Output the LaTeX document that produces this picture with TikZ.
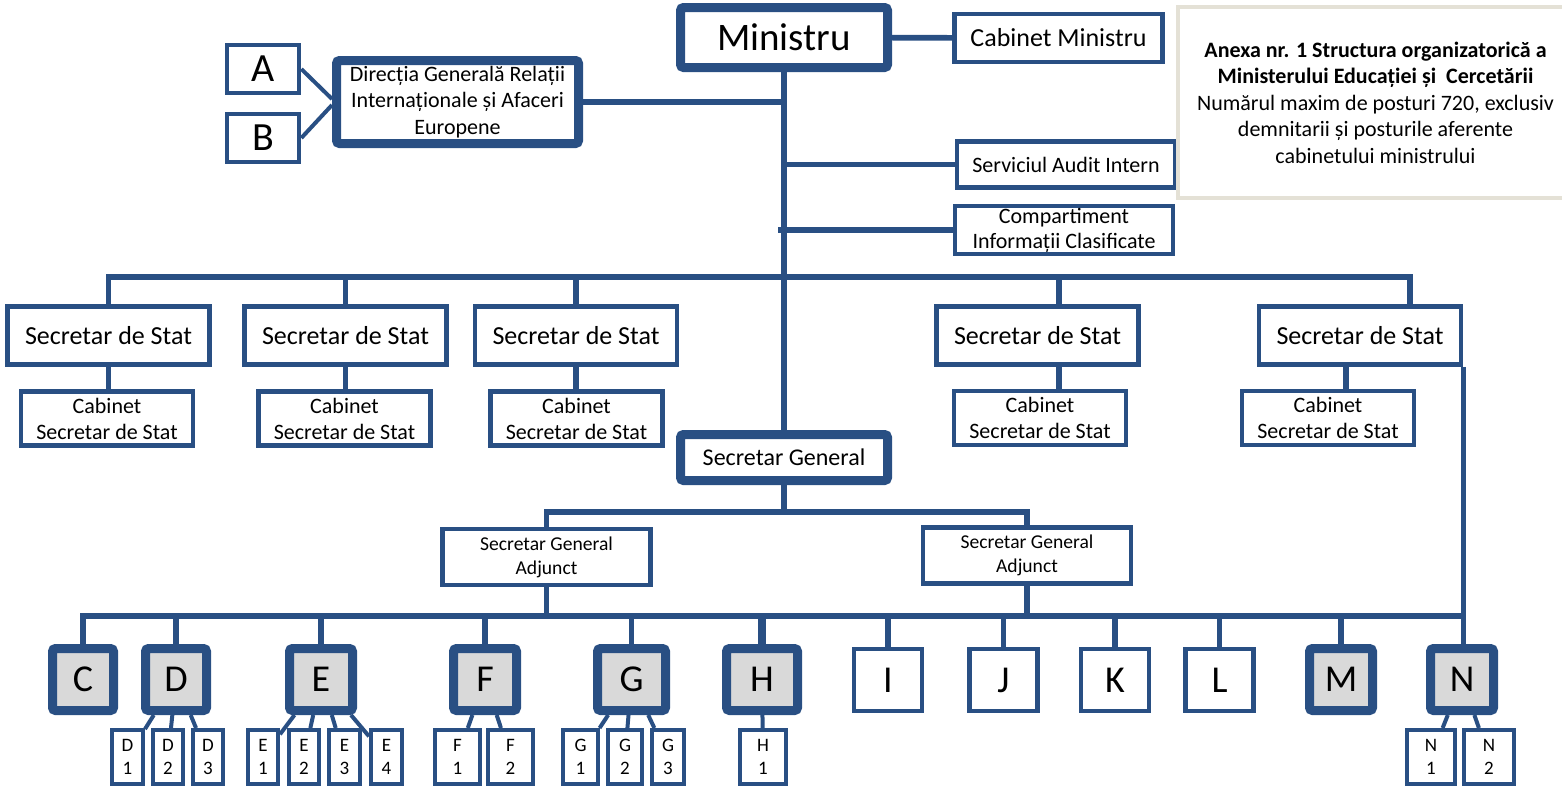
\documentclass[tikz,border=0pt]{standalone}
\usepackage{fontspec}
\setmainfont{Carlito}
\usepackage{tikz}
\usetikzlibrary{positioning}
\usetikzlibrary{calc}
\definecolor{orgblue}{RGB}{41,79,131}
\definecolor{boxgray}{RGB}{217,217,217}
\definecolor{notegray}{RGB}{228,225,214}
\tikzstyle{unit}=[draw=orgblue,line width=2.3pt,fill=white,align=center,inner sep=0pt]
\tikzstyle{bigunit}=[unit,line width=4.5pt,rounded corners=1.5pt]
\tikzstyle{letter}=[bigunit,fill=boxgray,minimum height=31pt,font=\fontsize{19}{19}\selectfont]
\tikzstyle{openletter}=[unit,minimum width=34pt,minimum height=31pt,font=\fontsize{19}{19}\selectfont]
\tikzstyle{subunit}=[unit,line width=2pt,minimum height=27pt,font=\fontsize{9.5}{11.5}\selectfont]
\tikzstyle{stat}=[unit,minimum width=101pt,minimum height=29pt,font=\fontsize{13}{15}\selectfont]
\tikzstyle{cabinet}=[unit,minimum width=86pt,minimum height=27pt,font=\fontsize{11}{13}\selectfont]
\tikzstyle{adjunct}=[unit,minimum width=104pt,minimum height=28pt,font=\fontsize{9.8}{12}\selectfont]
\tikzstyle{note}=[draw=notegray,line width=2pt,fill=white,align=center,font=\fontsize{11}{13.25}\selectfont]
\tikzstyle{link}=[draw=orgblue,line width=2.8pt]
\tikzstyle{sublink}=[draw=orgblue,line width=2pt]

\begin{document}
\begin{tikzpicture}[x=0.5pt,y=-0.5pt]
    \useasboundingbox (0,0) rectangle (1562,793);

    \node[bigunit,minimum width=103.5pt,minimum height=30pt,font=\fontsize{19.5}{19.5}\selectfont] (Min) at (784,37.5) {Ministru};
    \node[unit,minimum width=104pt,minimum height=24pt,font=\fontsize{13}{15}\selectfont] (CabMin) at (1058.5,38) {Cabinet Ministru};
    \node[bigunit,minimum width=121pt,minimum height=41.5pt,font=\fontsize{11}{13.3}\selectfont] (DGRI) at (457.5,102) {Direcția Generală Relații\\Internaționale și Afaceri\\Europene};
    \foreach \pos/\name in {{(263,69)/A}, {(263,138)/B}}
        \node[unit,minimum width=36pt,minimum height=24pt,font=\fontsize{20}{20}\selectfont] (\name) at \pos {\name};
    \node[unit,minimum width=109pt,minimum height=23pt,font=\fontsize{11}{13}\selectfont] (SAI) at (1066,164.5) {Serviciul Audit Intern};
    \node[unit,minimum width=109pt,minimum height=24pt,font=\fontsize{11}{12.5}\selectfont] (CIC) at (1064,230) {Compartiment\\Informații Clasificate};
    \node[note,minimum width=197.5pt,minimum height=95.5pt] (Anexa) at (1375.5,102.5) {\textbf{Anexa nr. 1 Structura organizatorică a}\\\textbf{Ministerului Educației și~ Cercetării}\\Numărul maxim de posturi 720, exclusiv\\demnitarii și posturile aferente\\cabinetului ministrului};

    \foreach \pos/\name in {{(108.5,335.5)/SS1}, {(345.5,335.5)/SS2}, {(576,335.5)/SS3}, {(1037.5,335.5)/SS4}, {(1360,335.5)/SS5}}
        \node[stat] (\name) at \pos {Secretar de Stat};
    \foreach \pos/\name in {{(107,418.5)/CSS1}, {(344.5,418.5)/CSS2}, {(576.5,418.5)/CSS3}, {(1040,418)/CSS4}, {(1328,418)/CSS5}}
        \node[cabinet] (\name) at \pos {Cabinet\\Secretar de Stat};

    \node[bigunit,minimum width=103.5pt,minimum height=23pt,font=\fontsize{12}{14}\selectfont] (SG) at (784,457.5) {Secretar General};
    \foreach \pos/\name in {{(546.5,557)/SGA1}, {(1027,555.5)/SGA2}}
        \node[adjunct] (\name) at \pos {Secretar General\\Adjunct};

    \foreach \x/\name/\w in {83/C/30.5, 176/D/30.5, 321/E/31.5, 485/F/31.5, 631.5/G/34, 762/H/35.5, 1341/M/31.5, 1462/N/31.5}
        \node[letter,minimum width=\w pt] (\name) at (\x,679.5) {\name};
    \foreach \x/\name in {888/I, 1003.5/J, 1115/K, 1219.5/L}
        \node[openletter] (\name) at (\x,680) {\name};

    \foreach \x/\p/\k/\w in {127.5/D/1/15.5, 168/D/2/15, 208/D/3/15, 263/E/1/15, 304/E/2/15, 344.5/E/3/15.5, 386.5/E/4/15.5, 457.5/F/1/22.5, 510.5/F/2/22.5, 580.5/G/1/17.5, 625/G/2/17, 668/G/3/16, 763/H/1/23, 1431/N/1/24, 1489/N/2/25}
    {
        \node[subunit,minimum width=\w pt] (\p\k) at (\x,757) {\p\\\k};
        \draw[sublink] (\p) -- (\p\k);
    }

    \coordinate (topbus) at (0,277);
    \coordinate (sgbus) at (0,512);
    \coordinate (lowbus) at (0,616);
    \coordinate (SS4in) at ($(SS4.north)+(21.5,0)$);
    \coordinate (SS5in) at ($(SS5.north)+(50,0)$);
    \coordinate (SS4out) at ($(SS4.south)+(21.5,0)$);
    \coordinate (SS5out) at ($(SS5.south)+(-14,0)$);

    \draw[link] (Min) -- (CabMin);
    \draw[link] (Min.south) -- (SG.north);
    \draw[link] (DGRI.east) -- (DGRI.east -| Min.south);
    \draw[link] (SAI.west) -- (SAI.west -| Min.south);
    \draw[link] (CIC.west) -- ([xshift=-3pt]CIC.west -| Min.south);
    \draw[sublink] (A.east) -- ([yshift=1.5pt]DGRI.west);
    \draw[sublink] (B.east) -- ([yshift=-1.5pt]DGRI.west);

    \draw[link] (SS1.north) -- (SS1.north |- topbus) -- (SS5in |- topbus) -- (SS5in);
    \foreach \name in {SS2,SS3}
        \draw[link] (\name.north) -- (\name.north |- topbus);
    \draw[link] (SS4in) -- (SS4in |- topbus);
    \foreach \n in {1,2,3}
        \draw[link] (SS\n.south) -- (SS\n.south |- CSS\n.north);
    \draw[link] (SS4out) -- (SS4out |- CSS4.north);
    \draw[link] (SS5out) -- (SS5out |- CSS5.north);

    \draw[link] (SG.south) -- (SG.south |- sgbus);
    \draw[link] (SGA1.north) |- (SGA2.north |- sgbus) -- (SGA2.north);
    \foreach \name in {SGA1,SGA2}
        \draw[link] (\name.south) -- (\name.south |- lowbus);

    \draw[link] (SS5.south east) -- (SS5.south east |- N.north);
    \draw[link] (C.north) |- (SS5.south east |- lowbus);
    \foreach \name in {D,E,F,G,I,J,K,L,M}
        \draw[link] (\name.north) -- (\name.north |- lowbus);
    \draw[link,line width=3.6pt] (H.north) -- (H.north |- lowbus);

\end{tikzpicture}
\end{document}
